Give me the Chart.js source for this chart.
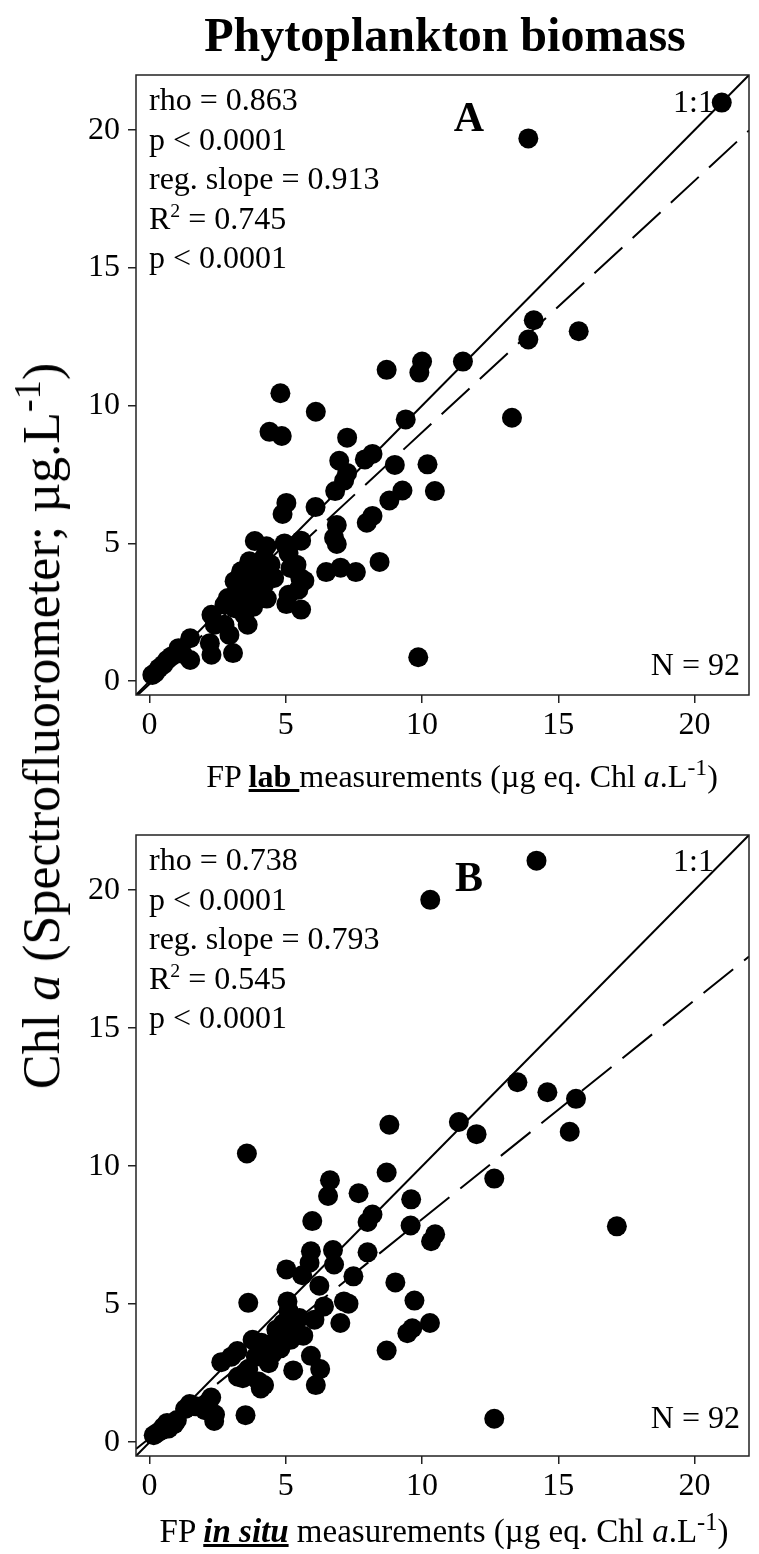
<!DOCTYPE html>
<html><head><meta charset="utf-8">
<script src="https://cdn.jsdelivr.net/npm/chart.js@4.4.1/dist/chart.umd.min.js"></script>
<style>
html,body{margin:0;padding:0;background:#fff;}
body{width:759px;height:1554px;position:relative;overflow:hidden;font-family:'Liberation Serif','Times New Roman',serif;color:#000;}
canvas{position:absolute;left:0;}
.t{position:absolute;white-space:nowrap;}
sup{font-size:0.62em;vertical-align:0.6em;line-height:0;}
sup.big{font-size:0.74em;vertical-align:0.5em;}
</style></head><body>
<canvas id="cA" width="759" height="800" style="top:0px"></canvas>
<canvas id="cB" width="759" height="794" style="top:760px"></canvas>

<div class="t" style="left:445px;top:11px;transform:translateX(-50%);font-size:48px;line-height:48px;font-weight:bold;">Phytoplankton biomass</div>
<div class="t" style="left:42px;top:726px;transform:translate(-50%,-50%) rotate(-90deg);font-size:52px;line-height:52px;">Chl <i>a</i> (Spectrofluorometer; µg.L<sup class="big">-1</sup>)</div>
<div class="t" style="left:462px;top:760px;transform:translateX(-50%);font-size:32px;line-height:32px;">FP <b><u>lab&nbsp;</u></b>measurements (µg eq. Chl <i>a</i>.L<sup class="big">-1</sup>)</div>
<div class="t" style="left:444px;top:1515px;transform:translateX(-50%);font-size:33px;line-height:33px;">FP <b><i><u>in situ</u></i></b> measurements (µg eq. Chl <i>a</i>.L<sup class="big">-1</sup>)</div>

<div class="t" style="left:149px;top:80px;font-size:32px;line-height:39.5px;">rho = 0.863<br>p &lt; 0.0001<br>reg. slope = 0.913<br>R<sup>2</sup> = 0.745<br>p &lt; 0.0001</div>
<div class="t" style="left:469px;top:96px;transform:translateX(-50%);font-size:42px;line-height:42px;font-weight:bold;">A</div>
<div class="t" style="right:45px;top:85px;font-size:32px;line-height:32px;">1:1</div>
<div class="t" style="right:19px;top:648px;font-size:32px;line-height:32px;">N = 92</div>

<div class="t" style="left:149px;top:840px;font-size:32px;line-height:39.5px;">rho = 0.738<br>p &lt; 0.0001<br>reg. slope = 0.793<br>R<sup>2</sup> = 0.545<br>p &lt; 0.0001</div>
<div class="t" style="left:469px;top:856px;transform:translateX(-50%);font-size:42px;line-height:42px;font-weight:bold;">B</div>
<div class="t" style="right:45px;top:844px;font-size:32px;line-height:32px;">1:1</div>
<div class="t" style="right:19px;top:1401px;font-size:32px;line-height:32px;">N = 92</div>

<script>
// ---- data ----
const axisMin = -0.5, axisMax = 22;
const xTicks = [0, 5, 10, 15, 20];
const xTickLabels = ['0', '5', '10', '15', '20'];
const yTicks = [0, 5, 10, 15, 20];
const yTickLabels = ['0', '5', '10', '15', '20'];

// Panel A: FP lab (x) vs spectrofluorometer Chl a (y)
const labX = [21.0,13.9,14.1,13.9,15.75,11.5,10.0,9.9,8.7,4.8,6.1,13.3,9.4,4.4,4.85,7.25,6.96,7.9,8.18,9.0,10.2,7.25,7.14,6.81,9.28,10.47,8.8,5.02,4.88,6.09,8.18,7.97,6.87,6.77,6.87,3.86,4.29,4.95,5.56,8.44,6.48,7.01,7.57,9.86,5.1,5.39,5.68,5.46,5.1,5.02,5.56,3.66,4.44,3.36,3.12,3.6,4.08,4.57,2.87,2.75,3.24,3.48,3.12,3.72,4.2,3.48,3.6,2.27,2.39,2.75,2.93,1.49,1.06,1.49,0.64,0.34,0.1,2.21,2.27,3.06,5.17,5.53,0.5,0.8,0.2,1.2,3.9,4.2,3.3,4.0,4.3,3.8];
const labY = [21.0,19.7,13.1,12.4,12.7,11.6,11.6,11.2,11.3,10.45,9.78,9.56,9.5,9.05,8.9,8.84,8.0,8.05,8.25,7.85,7.87,7.56,7.28,6.9,6.92,6.9,6.56,6.47,6.07,6.32,6.0,5.75,5.67,5.2,4.98,5.09,4.9,5.0,5.1,4.33,3.96,4.12,3.96,0.87,4.65,4.23,3.65,3.32,3.14,2.8,2.6,4.35,4.24,3.99,3.63,3.75,3.87,3.75,3.02,2.78,3.14,2.89,2.65,3.38,3.5,2.41,2.05,2.41,2.05,2.05,1.68,1.56,1.2,0.77,0.77,0.47,0.23,1.38,0.96,1.02,4.11,3.75,0.6,0.9,0.3,1.0,4.2,4.5,3.5,3.2,3.0,2.7];

// Panel B: FP in situ (x) vs spectrofluorometer Chl a (y)
const situX = [14.2,10.3,13.5,14.6,15.65,15.42,17.15,12.65,12.65,8.8,11.35,12.0,3.57,8.7,6.62,6.55,7.67,9.6,5.97,8.18,8.0,9.58,10.48,10.33,5.92,5.87,6.73,6.77,8.0,5.02,5.6,6.23,7.48,9.02,3.62,5.06,5.1,7.13,7.3,6.4,9.72,6.05,7.0,10.29,9.64,9.46,8.7,4.65,5.27,5.64,5.17,4.37,3.78,3.22,2.63,3.62,4.37,5.27,5.92,6.26,6.1,4.2,4.08,3.42,3.52,1.47,2.26,2.37,0.64,0.9,0.15,2.03,0.46,4.26,3.24,4.9,4.5,3.9,4.8,1.3,1.7,2.1,0.5,0.7,0.3,1.0,3.0,4.1,5.5,5.0,2.4,4.0];
const situY = [21.07,19.65,13.04,12.68,12.44,11.25,7.82,9.55,0.85,11.5,11.6,11.16,10.46,9.77,9.49,8.92,9.02,8.8,8.01,8.25,7.98,7.85,7.53,7.28,6.92,6.5,6.96,6.44,6.88,6.26,6.05,5.67,6.01,5.79,5.05,5.1,4.76,5.1,5.02,4.92,5.13,4.44,4.32,4.32,4.13,3.95,3.32,4.07,4.19,3.86,3.71,3.53,3.71,3.3,2.9,2.65,2.86,2.6,3.13,2.65,2.07,2.07,1.95,2.32,0.98,1.38,1.62,0.77,0.7,0.65,0.25,1.16,0.44,3.47,2.37,4.3,3.2,3.1,3.4,1.2,1.3,1.4,0.55,0.5,0.35,0.8,3.1,3.6,4.5,4.0,1.0,2.2];

// regression lines (slope, intercept)
const regA = [0.913, -0.1];
const regB = [0.793, 0.15];

// ---- drawing ----
const FONT = "'Liberation Serif', 'Times New Roman', serif";

const boxPlugin = {
  id: 'box',
  afterDraw(chart) {
    const a = chart.chartArea, c = chart.ctx;
    c.save();
    c.strokeStyle = '#222';
    c.lineWidth = 1.5;
    c.strokeRect(a.left, a.top, a.right - a.left, a.bottom - a.top);
    c.restore();
  }
};

function makeChart(id, xs, ys, reg, xAxisH) {
  const pts = xs.map((x, i) => ({ x: x, y: ys[i] }));
  const f = x => reg[0] * x + reg[1];
  return new Chart(document.getElementById(id), {
    type: 'scatter',
    data: {
      datasets: [
        { data: pts, pointRadius: 10, pointHoverRadius: 10, backgroundColor: '#000', borderWidth: 0, order: 2 },
        { data: [{ x: axisMin, y: axisMin }, { x: axisMax, y: axisMax }], showLine: true, borderColor: '#000', borderWidth: 2, pointRadius: 0, order: 1 },
        { data: [{ x: axisMin, y: f(axisMin) }, { x: axisMax, y: f(axisMax) }], showLine: true, borderColor: '#000', borderWidth: 2, borderDash: [38, 14], pointRadius: 0, order: 1 }
      ]
    },
    options: {
      responsive: false, animation: false, devicePixelRatio: 1,
      layout: { padding: { left: 0, top: 75, right: 2, bottom: 0 } },
      plugins: { legend: { display: false }, tooltip: { enabled: false } },
      scales: {
        x: {
          type: 'linear', min: axisMin, max: axisMax,
          afterBuildTicks: s => { s.ticks = xTicks.map(v => ({ value: v })); },
          afterFit: s => { s.height = xAxisH; },
          grid: { display: true, drawOnChartArea: false, drawTicks: true, tickLength: 8, color: '#222', lineWidth: 1.5 },
          border: { display: false },
          ticks: { font: { family: FONT, size: 32 }, color: '#000', padding: 3, maxRotation: 0, autoSkip: false,
                    callback: (v) => xTickLabels[xTicks.indexOf(v)] }
        },
        y: {
          type: 'linear', min: axisMin, max: axisMax,
          afterBuildTicks: s => { s.ticks = yTicks.map(v => ({ value: v })); },
          afterFit: s => { s.width = 136; },
          grid: { display: true, drawOnChartArea: false, drawTicks: true, tickLength: 8, color: '#222', lineWidth: 1.5 },
          border: { display: false },
          ticks: { font: { family: FONT, size: 32 }, color: '#000', padding: 8, autoSkip: false,
                    callback: (v) => yTickLabels[yTicks.indexOf(v)] }
        }
      }
    },
    plugins: [boxPlugin]
  });
}

makeChart('cA', labX, labY, regA, 105);
makeChart('cB', situX, situY, regB, 98);
</script>
</body></html>
